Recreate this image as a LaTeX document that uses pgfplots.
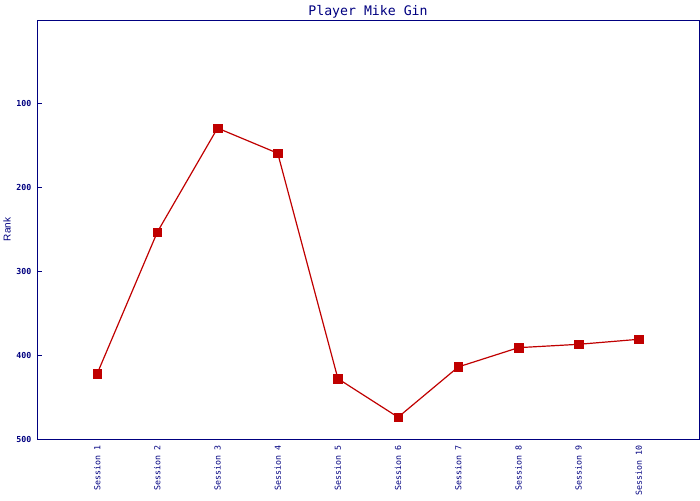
\documentclass[border=0pt]{standalone}
\usepackage{fontspec}
\setmainfont{Liberation Sans}
\setmonofont{DejaVu Sans Mono}
\usepackage{pgfplots}
\pgfplotsset{compat=1.18}
\definecolor{navy}{RGB}{0,0,128}
\definecolor{linered}{RGB}{192,0,0}
\begin{document}
\begin{tikzpicture}
\useasboundingbox (0,0) rectangle (525pt,375pt);
\begin{axis}[
  at={(27.75pt,45.75pt)}, anchor=south west,
  scale only axis, width=496.5pt, height=314.25pt,
  xmin=0, xmax=11, ymin=0, ymax=500,
  y dir=reverse,
  xtick={1,...,10},
  xticklabels={Session 1,Session 2,Session 3,Session 4,Session 5,Session 6,Session 7,Session 8,Session 9,Session 10},
  ytick={100,200,300,400,500},
  ytick pos=left,
  /pgf/number format/assume math mode=true,
  tick align=inside,
  major tick length=3.4pt,
  axis line style={draw=navy, line width=0.75pt},
  ytick style={draw=navy, line width=0.75pt},
  xtick style={draw=none},
  xticklabel style={rotate=90, anchor=east, inner sep=0pt, xshift=-5pt,
    font=\ttfamily\fontsize{6.2}{7}\selectfont, text=navy},
  yticklabel style={inner sep=0pt, xshift=-4pt,
    font=\ttfamily\bfseries\fontsize{6.2}{7}\selectfont, text=navy},
  title={Player Mike Gin},
  every axis title/.style={at={(axis description cs:0.5,1)}, anchor=base, yshift=3.75pt,
    font=\ttfamily\fontsize{9.9}{11}\selectfont, text=navy, inner sep=0pt},
  ylabel={Rank},
  every axis y label/.style={at={(axis description cs:0,0.5)}, xshift=-22.5pt, rotate=90, anchor=center,
    font=\fontsize{7.5}{9}\selectfont, text=navy, inner sep=0pt},
]
\addplot[color=linered, line width=0.9pt, mark=square*, mark size=3.2pt,
  mark options={fill=linered, draw=linered, line width=0.3pt}]
  coordinates {
  (1,422) (2,253) (3,129) (4,159) (5,428)
  (6,474) (7,414) (8,391) (9,387) (10,381)
};
\end{axis}
\end{tikzpicture}
\end{document}
